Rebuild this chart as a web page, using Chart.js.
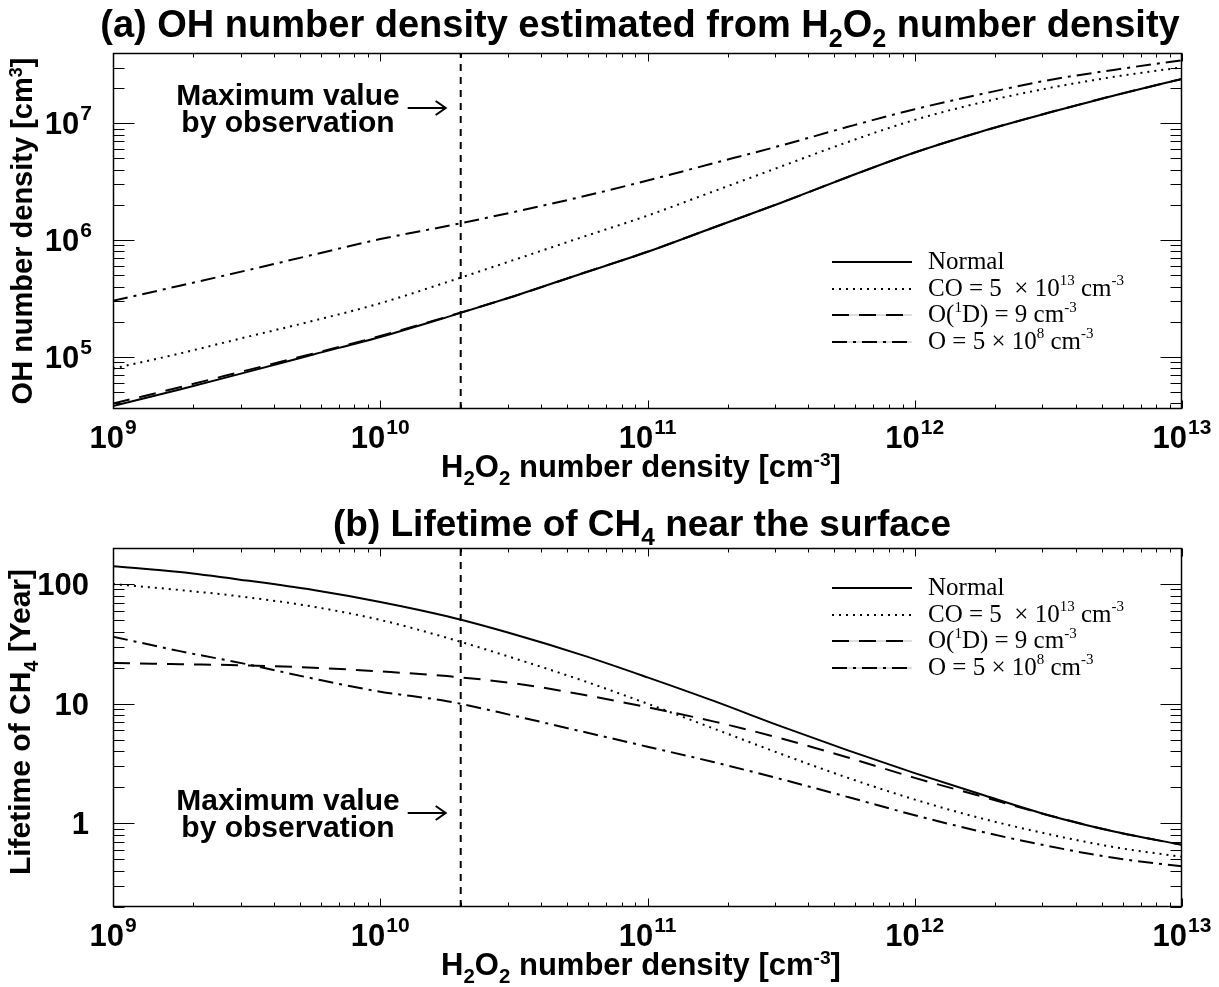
<!DOCTYPE html>
<html>
<head>
<meta charset="utf-8">
<script src="https://cdn.jsdelivr.net/npm/chart.js@4.4.1/dist/chart.umd.min.js"></script>
<style>
  html, body { margin: 0; padding: 0; background: #fff; }
  #wrap { position: relative; width: 1219px; height: 987px; overflow: hidden; background: #fff; }
  canvas { position: absolute; left: 0; }
  .t { position: absolute; white-space: nowrap; font-family: "Liberation Sans", Arial, Helvetica, sans-serif; font-weight: bold; color: #000; line-height: 1; }
  .ctr { transform: translateX(-50%); }
  .rot { transform: translate(-50%, -50%) rotate(-90deg); }
  .sub { font-size: 0.66em; position: relative; top: 0.38em; }
  .sup { font-size: 0.62em; position: relative; top: -0.55em; }
  .note { text-align: center; line-height: 27px; }
  .legend { position: absolute; font-family: "Liberation Serif", "Times New Roman", serif; font-size: 25px; color: #000; }
  .legend .row { position: absolute; left: 0; white-space: nowrap; height: 20px; }
  .legend svg { position: absolute; left: 0; top: 4px; }
  .legend .lab { position: absolute; left: 96px; top: -4px; line-height: 1; }
  .legend sup { font-size: 0.6em; position: relative; top: -0.1em; vertical-align: top; }
</style>
</head>
<body>
<div id="wrap">
  <canvas id="cA" width="1219" height="493" style="top:0"></canvas>
  <canvas id="cB" width="1219" height="494" style="top:493px"></canvas>

  <div class="t ctr" style="left:640px; top:5px; font-size:38px;">(a) OH number density estimated from H<span class="sub">2</span>O<span class="sub">2</span> number density</div>
  <div class="t ctr" style="left:641px; top:451px; font-size:31px;">H<span class="sub">2</span>O<span class="sub">2</span> number density [cm<span class="sup">-3</span>]</div>
  <div class="t rot" style="left:22px; top:231px; font-size:29px;">OH number density [cm<span class="sup">3</span>]</div>
  <div class="t note ctr" style="left:288px; top:81px; font-size:30px;">Maximum value<br>by observation</div>

  <div class="t ctr" style="left:642px; top:505px; font-size:37px;">(b) Lifetime of CH<span class="sub">4</span> near the surface</div>
  <div class="t ctr" style="left:641px; top:949px; font-size:31px;">H<span class="sub">2</span>O<span class="sub">2</span> number density [cm<span class="sup">-3</span>]</div>
  <div class="t rot" style="left:20px; top:722px; font-size:30px;">Lifetime of CH<span class="sub">4</span> [Year]</div>
  <div class="t note ctr" style="left:288px; top:786px; font-size:30px;">Maximum value<br>by observation</div>

  <div class="legend" id="legA" style="left:832px; top:252px;"></div>
  <div class="legend" id="legB" style="left:832px; top:578px;"></div>
</div>

<script>
// ---------------- data ----------------
// H2O2 number density [cm^-3] sample positions
const h2o2Density = [1e9, 1.778e9, 3.162e9, 5.623e9, 1e10, 1.778e10, 3.162e10, 5.623e10,
                     1e11, 1.778e11, 3.162e11, 5.623e11, 1e12, 1.778e12, 3.162e12, 5.623e12, 1e13];

// (a) OH number density [cm^-3]
const ohNormal = [3.80e4, 5.25e4, 7.41e4, 1.05e5, 1.48e5, 2.19e5, 3.31e5, 5.13e5,
                  7.94e5, 1.29e6, 2.09e6, 3.47e6, 5.62e6, 8.51e6, 1.23e7, 1.74e7, 2.40e7];
const ohCO     = [7.94e4, 1.07e5, 1.48e5, 2.04e5, 2.88e5, 4.37e5, 6.76e5, 1.05e6,
                  1.62e6, 2.63e6, 4.27e6, 6.92e6, 1.07e7, 1.51e7, 2.00e7, 2.51e7, 3.02e7];
const ohO1D    = [3.98e4, 5.50e4, 7.67e4, 1.07e5, 1.51e5, 2.21e5, 3.31e5, 5.13e5,
                  7.94e5, 1.29e6, 2.09e6, 3.47e6, 5.62e6, 8.51e6, 1.23e7, 1.74e7, 2.40e7];
const ohO      = [3.02e5, 4.07e5, 5.50e5, 7.50e5, 1.02e6, 1.32e6, 1.74e6, 2.34e6,
                  3.24e6, 4.57e6, 6.46e6, 9.33e6, 1.32e7, 1.78e7, 2.34e7, 2.88e7, 3.47e7];

// (b) Lifetime of CH4 [year]
const lifeNormal = [141, 126, 107, 89.1, 70.8, 53.7, 38.0, 25.7,
                    16.6, 10.5, 6.46, 4.07, 2.63, 1.74, 1.17, 0.851, 0.661];
const lifeCO     = [100, 89.1, 77.6, 64.6, 50.1, 35.5, 24.0, 15.8,
                    10.0, 6.17, 3.80, 2.40, 1.58, 1.10, 0.813, 0.631, 0.525];
const lifeO1D    = [21.9, 21.4, 20.9, 20.0, 18.6, 17.0, 14.8, 12.0,
                    9.33, 7.08, 5.13, 3.55, 2.40, 1.68, 1.17, 0.851, 0.661];
const lifeO      = [36.3, 27.5, 21.4, 16.2, 12.6, 10.5, 7.94, 5.89,
                    4.37, 3.24, 2.34, 1.66, 1.17, 0.851, 0.646, 0.513, 0.437];

// series names (legend text, HTML for superscripts)
const seriesNames = ['Normal',
                     'CO = 5&nbsp; × 10<sup>13</sup> cm<sup>-3</sup>',
                     'O(<sup>1</sup>D) = 9 cm<sup>-3</sup>',
                     'O = 5 × 10<sup>8</sup> cm<sup>-3</sup>'];

// axes / ticks
const xRange = [1e9, 1e13];
const xTickExponents = [9, 10, 11, 12, 13];
const yRangeA = [3.58e4, 4e7];
const yTickExponentsA = [5, 6, 7];
const yRangeB = [0.2, 200];
const yTickValuesB = [1, 10, 100];
const yTickLabelsB = ['1', '10', '100'];
const maxObservedH2O2 = 2e10;

// ---------------- styles ----------------
const dashStyles = [[], [2, 5], [17, 10], [15, 6, 3, 6]];
const FONT = '"Liberation Sans", Arial, Helvetica, sans-serif';
const TICK_PX = 31, EXP_PX = 21;

function pts(xs, ys) { return xs.map((x, i) => ({ x: x, y: ys[i] })); }

function buildDatasets(seriesList, yr) {
  const ds = seriesList.map((s, i) => ({
    label: seriesNames[i].replace(/<[^>]+>/g, ''),
    data: pts(h2o2Density, s),
    borderColor: '#000',
    borderWidth: 2,
    borderDash: dashStyles[i],
    pointRadius: 0,
    fill: false,
    cubicInterpolationMode: 'monotone'
  }));
  ds.push({
    label: 'Maximum value by observation',
    data: [{ x: maxObservedH2O2, y: yr[0] }, { x: maxObservedH2O2, y: yr[1] }],
    borderColor: '#000',
    borderWidth: 2,
    borderDash: [7, 6],
    pointRadius: 0,
    fill: false
  });
  return ds;
}

function drawPow(ctx, base, exp, x, baseline, align) {
  ctx.font = 'bold ' + TICK_PX + 'px ' + FONT;
  const wb = ctx.measureText(base).width;
  ctx.font = 'bold ' + EXP_PX + 'px ' + FONT;
  const we = ctx.measureText(exp).width;
  const total = wb + we + 1;
  const x0 = align === 'center' ? x - total / 2 : x - total;
  ctx.font = 'bold ' + TICK_PX + 'px ' + FONT;
  ctx.fillText(base, x0, baseline);
  ctx.font = 'bold ' + EXP_PX + 'px ' + FONT;
  ctx.fillText(exp, x0 + wb + 1, baseline - 14);
}

const framePlugin = {
  id: 'frame',
  afterDatasetsDraw(chart, args, opts) {
    const { ctx, chartArea: ca, scales } = chart;
    const x = scales.x, y = scales.y;
    const L = Math.round(ca.left) + 0.5, R = Math.round(ca.right) - 0.5;
    const T = Math.round(ca.top) + 0.5, B = Math.round(ca.bottom) - 0.5;
    ctx.save();
    ctx.strokeStyle = '#000';
    ctx.fillStyle = '#000';
    ctx.lineWidth = 1;
    ctx.setLineDash([]);
    ctx.beginPath();
    // x-axis ticks (bottom + top, inward)
    for (let e = 9; e <= 13; e++) {
      for (let m = 1; m <= 9; m++) {
        const v = m * Math.pow(10, e);
        if (v < x.min * 0.999 || v > x.max * 1.001) continue;
        const px = Math.round(x.getPixelForValue(v)) + 0.5;
        const len = m === 1 ? 8 : 4;
        ctx.moveTo(px, B); ctx.lineTo(px, B - len);
        ctx.moveTo(px, T); ctx.lineTo(px, T + len);
      }
    }
    // y-axis ticks (left + right, inward)
    const e0 = Math.floor(Math.log10(y.min)), e1 = Math.ceil(Math.log10(y.max));
    for (let e = e0; e <= e1; e++) {
      for (let m = 1; m <= 9; m++) {
        const v = m * Math.pow(10, e);
        if (v < y.min * 0.999 || v > y.max * 1.001) continue;
        const py = Math.round(y.getPixelForValue(v)) + 0.5;
        const len = m === 1 ? 21 : 11;
        ctx.moveTo(L, py); ctx.lineTo(L + len, py);
        ctx.moveTo(R, py); ctx.lineTo(R - len, py);
      }
    }
    ctx.stroke();
    ctx.lineWidth = 1.5;
    ctx.strokeRect(ca.left + 0.5, ca.top + 0.5, ca.right - ca.left - 1, ca.bottom - ca.top - 1);

    // x tick labels
    ctx.textBaseline = 'alphabetic';
    ctx.textAlign = 'left';
    xTickExponents.forEach(e => {
      const px = x.getPixelForValue(Math.pow(10, e));
      drawPow(ctx, '10', String(e), px, ca.bottom + 39, 'center');
    });
    // y tick labels
    if (opts.mode === 'pow') {
      yTickExponentsA.forEach(e => {
        const py = y.getPixelForValue(Math.pow(10, e));
        drawPow(ctx, '10', String(e), opts.labelRight, py + 11, 'right');
      });
    } else {
      ctx.font = 'bold ' + TICK_PX + 'px ' + FONT;
      ctx.textAlign = 'right';
      yTickValuesB.forEach((v, i) => {
        const py = y.getPixelForValue(v);
        ctx.fillText(yTickLabelsB[i], opts.labelRight, py + 11);
      });
    }

    // arrow pointing to the observation line
    const ax1 = x.getPixelForValue(maxObservedH2O2) - 15;
    const ax0 = ax1 - 38;
    const ay = opts.arrowY;
    ctx.lineWidth = 2;
    ctx.beginPath();
    ctx.moveTo(ax0, ay); ctx.lineTo(ax1, ay);
    ctx.moveTo(ax1 - 10, ay - 7); ctx.lineTo(ax1, ay); ctx.lineTo(ax1 - 10, ay + 7);
    ctx.stroke();
    ctx.restore();
  }
};

function makeChart(id, seriesList, yr, pad, frameOpts) {
  return new Chart(document.getElementById(id), {
    type: 'line',
    data: { datasets: buildDatasets(seriesList, yr) },
    options: {
      responsive: false,
      animation: false,
      devicePixelRatio: 1,
      layout: { padding: pad },
      plugins: { legend: { display: false }, tooltip: { enabled: false }, frame: frameOpts },
      scales: {
        x: { type: 'logarithmic', min: xRange[0], max: xRange[1], display: false },
        y: { type: 'logarithmic', min: yr[0], max: yr[1], display: false }
      }
    },
    plugins: [framePlugin]
  });
}

const chartA = makeChart('cA', [ohNormal, ohCO, ohO1D, ohO], yRangeA,
  { left: 113, right: 37, top: 53, bottom: 84 },
  { mode: 'pow', labelRight: 92, arrowY: 108 });
const chartB = makeChart('cB', [lifeNormal, lifeCO, lifeO1D, lifeO], yRangeB,
  { left: 113, right: 37, top: 55, bottom: 80 },
  { mode: 'plain', labelRight: 89, arrowY: 320 });

// legends built from the chart datasets
function buildLegend(elId, chart) {
  const el = document.getElementById(elId);
  const rowH = 26.5;
  chart.data.datasets.slice(0, 4).forEach((ds, i) => {
    const row = document.createElement('div');
    row.className = 'row';
    row.style.top = (i * rowH) + 'px';
    const dash = ds.borderDash.length ? ds.borderDash.join(',') : 'none';
    const faint = ds.borderDash.length > 2 || (ds.borderDash.length === 2 && ds.borderDash[0] > 5)
      ? '<line x1="0" y1="6" x2="80" y2="6" stroke="#bbb" stroke-width="1"/>' : '';
    row.innerHTML = '<svg width="82" height="12">' + faint +
      '<line x1="0" y1="6" x2="80" y2="6" stroke="#000" stroke-width="2" stroke-dasharray="' + dash + '"/></svg>' +
      '<span class="lab">' + seriesNames[i] + '</span>';
    el.appendChild(row);
  });
}
buildLegend('legA', chartA);
buildLegend('legB', chartB);
</script>
</body>
</html>
